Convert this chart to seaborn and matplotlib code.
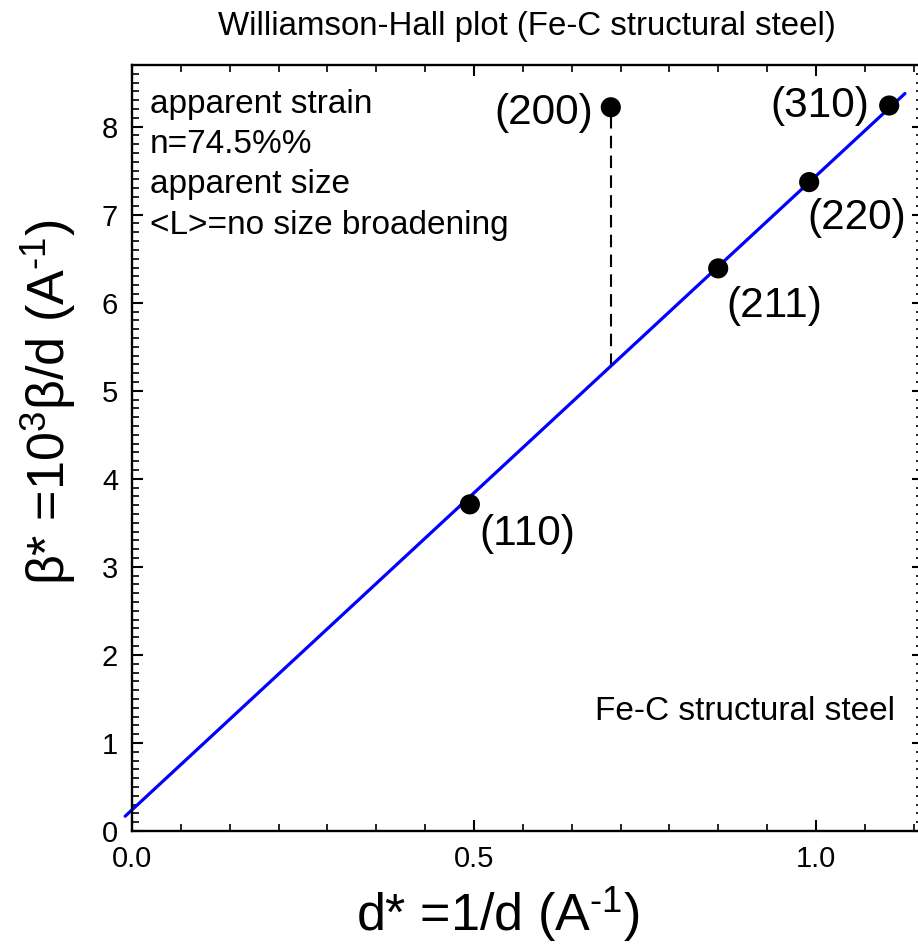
import matplotlib
matplotlib.use("Agg")
import matplotlib.pyplot as plt
from matplotlib.ticker import MultipleLocator, FixedLocator
import pandas as pd
import seaborn as sns

# Reflections: Miller indices, reciprocal spacing d* (1/A) and integral breadth beta* (1e-3/A)
hkl = ["(110)", "(200)", "(211)", "(220)", "(310)"]
d_star = [0.494, 0.700, 0.857, 0.990, 1.107]
beta_star = [3.71, 8.22, 6.39, 7.37, 8.24]

# Linear Williamson-Hall fit  beta* = a + b d*
fit_intercept = 0.24
fit_slope = 7.20
fit_range = [-0.01, 1.13]

# Reflection excluded from the fit (shown with a dashed deviation line)
outlier = "(200)"

x_ticks = [0.0, 0.5, 1.0]
x_tick_labels = ["0.0", "0.5", "1.0"]
y_ticks = [0, 1, 2, 3, 4, 5, 6, 7, 8]

info_lines = ["apparent strain", "n=74.5%%", "apparent size", "<L>=no size broadening"]
sample_name = "Fe-C structural steel"
title = "Williamson-Hall plot (Fe-C structural steel)"

sns.set_style("white")
plt.rcParams["font.family"] = ["Liberation Sans", "DejaVu Sans"]
plt.rcParams["mathtext.fontset"] = "custom"
plt.rcParams["mathtext.rm"] = "Liberation Sans"
plt.rcParams["mathtext.it"] = "Liberation Sans:italic"
plt.rcParams["mathtext.default"] = "regular"
for key in ("text.color", "axes.labelcolor", "xtick.color", "ytick.color"):
    plt.rcParams[key] = "black"

W, H = 918, 949
fig = plt.figure(figsize=(W / 100, H / 100), dpi=100)
L, R, T, B = 132, 923, 65, 831
ax = fig.add_axes([L / W, 1 - B / H, (R - L) / W, (B - T) / H])

pts = pd.DataFrame({"d": d_star, "b": beta_star, "hkl": hkl})
fit = pd.DataFrame({"d": fit_range,
                    "b": [fit_intercept + fit_slope * x for x in fit_range]})

# fitted straight line
sns.lineplot(data=fit, x="d", y="b", color="#0000ff", lw=2.3, ax=ax,
             clip_on=False, zorder=2)

# deviation of the excluded reflection from the fit
o = pts[pts["hkl"] == outlier].iloc[0]
ax.plot([o["d"], o["d"]], [fit_intercept + fit_slope * o["d"], o["b"]],
        color="black", lw=1.5, dashes=(6, 3.5), zorder=1)

# measured reflections
sns.scatterplot(data=pts, x="d", y="b", s=210, color="black",
                edgecolor="none", zorder=3, ax=ax, legend=False)

# reflection labels: (dx, dy) offsets in points, alignment
label_style = {
    "(110)": (7, -21, "left"),
    "(200)": (-13, -4, "right"),
    "(211)": (6, -27, "left"),
    "(220)": (-1, -26, "left"),
    "(310)": (-14, 0, "right"),
}
for _, r in pts.iterrows():
    dx, dy, ha = label_style[r["hkl"]]
    ax.annotate(r["hkl"], (r["d"], r["b"]), xytext=(dx, dy),
                textcoords="offset points", ha=ha, va="center",
                fontsize=30.5, color="black")

ax.set_xlim(0, (R - L) / 684)
ax.set_ylim(0, 8.7)
ax.xaxis.set_major_locator(FixedLocator(x_ticks))
ax.set_xticklabels(x_tick_labels)
ax.xaxis.set_minor_locator(MultipleLocator(0.5 / 7))
ax.yaxis.set_major_locator(FixedLocator(y_ticks))
ax.yaxis.set_minor_locator(MultipleLocator(0.1))

for s in ax.spines.values():
    s.set_linewidth(1.7)
    s.set_color("black")
ax.tick_params(which="both", direction="in", top=True, right=True,
               bottom=True, left=True, colors="black")
ax.tick_params(which="major", length=8, width=1.5, labelsize=21)
ax.tick_params(which="minor", length=5, width=1.2)
ax.tick_params(axis="x", which="major", pad=10)
ax.tick_params(axis="y", which="major", pad=10)

ax.set_xlabel(r"d* =1/d (A$^{\text{-}1}$)", fontsize=37.5)
ax.set_ylabel(r"β* =10$^3$β/d (A$^{\text{-}1}$)", fontsize=37.5)
ax.xaxis.set_label_coords((498 - L) / (R - L), (B - 915) / (B - T))
ax.xaxis.label.set_va("center")
ax.yaxis.set_label_coords((48 - L) / (R - L), (B - 402) / (B - T))
ax.yaxis.label.set_va("center")

fig.text(527 / W, 1 - 27 / H, title, ha="center", va="center", fontsize=23.8)

for i, line in enumerate(info_lines):
    ax.text((150 - L) / (R - L), (B - (104 + 40.5 * i)) / (B - T), line,
            transform=ax.transAxes, ha="left", va="center", fontsize=24)
ax.text((895 - L) / (R - L), (B - 712) / (B - T), sample_name,
        transform=ax.transAxes, ha="right", va="center", fontsize=24)

fig.savefig("out.png", dpi=100)
